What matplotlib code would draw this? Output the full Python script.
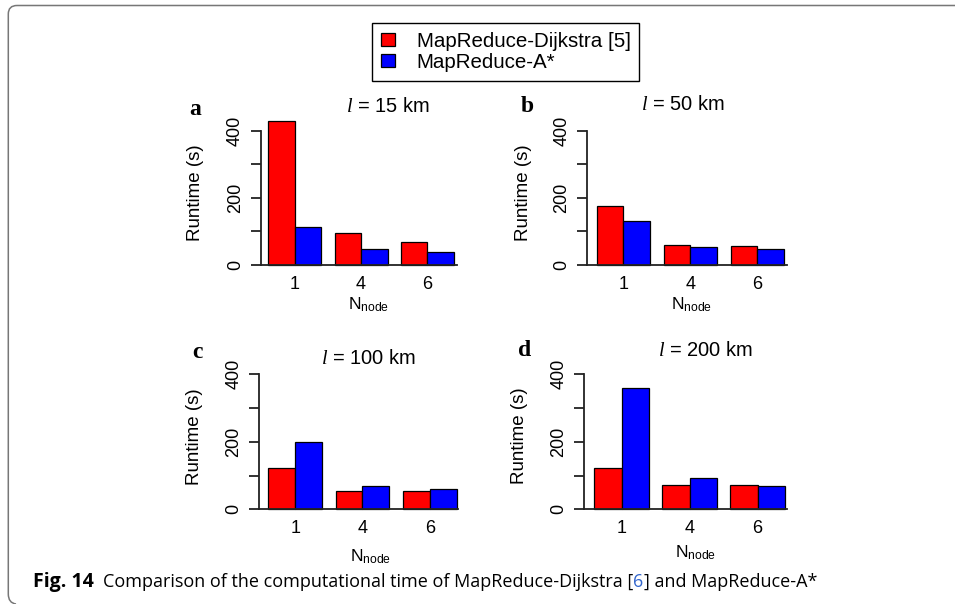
import matplotlib
matplotlib.use("Agg")
import matplotlib.pyplot as plt
import numpy as np
from matplotlib import font_manager
from matplotlib.path import Path
from matplotlib.patches import PathPatch
import matplotlib.transforms as mtransforms

# ---------------- data ----------------
node_labels = ["1", "4", "6"]
series_names = ["MapReduce-Dijkstra [5]", "MapReduce-A*"]
panel_letters = ["a", "b", "c", "d"]
path_lengths = ["15", "50", "100", "200"]

dijkstra_15 = [428, 96, 68]
astar_15 = [113, 48, 40]
dijkstra_50 = [176, 60, 57]
astar_50 = [132, 53, 48]
dijkstra_100 = [123, 54, 54]
astar_100 = [200, 68, 59]
dijkstra_200 = [123, 71, 71]
astar_200 = [358, 92, 68]

y_ticks = [0, 100, 200, 300, 400]
y_ticklabels = ["0", "", "200", "", "400"]

caption_bold = "Fig. 14"
caption_a = "Comparison of the computational time of MapReduce-Dijkstra ["
caption_ref = "6"
caption_b = "] and MapReduce-A*"

# ---------------- styling / layout ----------------
W, H = 955, 604
RED, BLUE = "#FF0000", "#0000FF"
SANS = "Liberation Sans"

plt.rcParams["font.family"] = [SANS, "DejaVu Sans"]
plt.rcParams["mathtext.fontset"] = "custom"
plt.rcParams["mathtext.rm"] = "Liberation Sans"
plt.rcParams["mathtext.it"] = "Liberation Serif:italic"

def has_font(name):
    try:
        font_manager.findfont(name, fallback_to_default=False)
        return True
    except Exception:
        return False

CAP_FONT = "Liberation Sans Narrow" if has_font("Liberation Sans Narrow") else "Open Sans"

fig = plt.figure(figsize=(W / 100, H / 100), dpi=100)

def fx(x):
    return x / W

def fy(y):
    return 1 - y / H

layouts = [
    dict(spine=260.7, zero=265.0, ppu=0.3358, bar0=268.3, bw=26.5, right=457.0,
         title=(388, 107), letter=(195, 110), ylab=(195, 193), xlab=(369, 305)),
    dict(spine=587.3, zero=265.0, ppu=0.3358, bar0=596.7, bw=26.76, right=787.3,
         title=(683, 105), letter=(527, 107), ylab=(523, 193), xlab=(692, 305)),
    dict(spine=259.3, zero=509.3, ppu=0.3375, bar0=268.3, bw=26.9, right=458.0,
         title=(369, 358), letter=(197, 352), ylab=(194, 437), xlab=(371, 557)),
    dict(spine=584.3, zero=509.3, ppu=0.3375, bar0=594.3, bw=27.2, right=787.3,
         title=(706, 351), letter=(525, 350), ylab=(519, 436), xlab=(696, 553)),
]

panel_data = [
    (dijkstra_15, astar_15),
    (dijkstra_50, astar_50),
    (dijkstra_100, astar_100),
    (dijkstra_200, astar_200),
]

YTOP = 440
group_offsets = np.arange(len(node_labels)) * 2.5
bar_handles = None

for lay, (d_vals, a_vals), letter, length in zip(layouts, panel_data, panel_letters, path_lengths):
    left = fx(lay["spine"])
    bottom = fy(lay["zero"])
    width = (lay["right"] - lay["spine"]) / W
    height = YTOP * lay["ppu"] / H
    ax = fig.add_axes([left, bottom, width, height])
    ax.set_facecolor("none")

    b1 = ax.bar(group_offsets, d_vals, width=1.0, align="edge", color=RED,
                edgecolor="black", linewidth=0.9, clip_on=False, zorder=2)
    b2 = ax.bar(group_offsets + 1, a_vals, width=1.0, align="edge", color=BLUE,
                edgecolor="black", linewidth=0.9, clip_on=False, zorder=2)
    if bar_handles is None:
        bar_handles = (b1, b2)

    ax.set_xlim((lay["spine"] - lay["bar0"]) / lay["bw"], (lay["right"] - lay["bar0"]) / lay["bw"])
    ax.set_ylim(0, YTOP)

    for s in ("top", "right"):
        ax.spines[s].set_visible(False)
    for s in ("left", "bottom"):
        ax.spines[s].set_linewidth(1.3)
        ax.spines[s].set_color("#222222")
        ax.spines[s].set_zorder(3)
    ax.spines["left"].set_bounds(0, 400)

    ax.set_yticks(y_ticks)
    ax.set_yticklabels(y_ticklabels)
    ax.tick_params(axis="y", length=7.2, width=1.3, color="#222222",
                   labelsize=13, pad=5, labelrotation=90)
    for t in ax.get_yticklabels():
        t.set_va("center")

    ax.set_xticks(group_offsets + 1)
    ax.set_xticklabels(node_labels)
    ax.tick_params(axis="x", length=0, labelsize=13, pad=8)

    fig.text(fx(lay["title"][0]), fy(lay["title"][1]), r"$\mathit{l}$ = " + length + " km",
             ha="center", va="center", fontsize=14.5)
    fig.text(fx(lay["letter"][0]), fy(lay["letter"][1]), letter, ha="center", va="center",
             fontsize=17, fontweight="bold", family="Liberation Serif")
    fig.text(fx(lay["ylab"][0]), fy(lay["ylab"][1]), "Runtime (s)", rotation=90,
             ha="center", va="center", fontsize=13.5)
    fig.text(fx(lay["xlab"][0]), fy(lay["xlab"][1]), r"$\mathregular{N_{node}}$",
             ha="center", va="center", fontsize=12.5)

# legend
fig.legend(bar_handles, series_names, loc="upper left",
           bbox_to_anchor=(fx(372), fy(23.3)), bbox_transform=fig.transFigure,
           fontsize=14.8, frameon=True, fancybox=False, edgecolor="black",
           framealpha=1, borderaxespad=0, borderpad=0.42, labelspacing=0.1,
           handlelength=0.7, handleheight=0.6, handletextpad=1.05)
leg = fig.legends[0]
leg.get_frame().set_linewidth(1.0)

# outer frame (top and left edges with rounded corners)
pix = mtransforms.Affine2D().scale(1 / W, -1 / H).translate(0, 1) + fig.transFigure
verts = [(W, 5.5), (17, 5.5), (8.3, 5.5), (8.3, 14),
         (8.3, 594), (8.3, 603), (16, 604)]
codes = [Path.MOVETO, Path.LINETO, Path.CURVE3, Path.CURVE3,
         Path.LINETO, Path.CURVE3, Path.CURVE3]
fig.patches.append(PathPatch(Path(verts, codes), transform=pix, fill=False,
                             edgecolor="#777777", linewidth=1.1))

# caption
t0 = fig.text(fx(33), fy(582), caption_bold, ha="left", va="center",
              fontsize=14, fontweight="bold", family=[CAP_FONT, "DejaVu Sans"])
t1 = fig.text(fx(103), fy(582), caption_a, ha="left", va="center",
              fontsize=13, family=[CAP_FONT, "DejaVu Sans"])
t2 = fig.add_artist(matplotlib.text.Annotation(caption_ref, xy=(1, 0), xycoords=t1,
                    va="bottom", ha="left", fontsize=13, color="#3366CC",
                    family=[CAP_FONT, "DejaVu Sans"]))
t3 = fig.add_artist(matplotlib.text.Annotation(caption_b, xy=(1, 0), xycoords=t2,
                    va="bottom", ha="left", fontsize=13, color="black",
                    family=[CAP_FONT, "DejaVu Sans"]))

fig.savefig("out.png", dpi=100)
